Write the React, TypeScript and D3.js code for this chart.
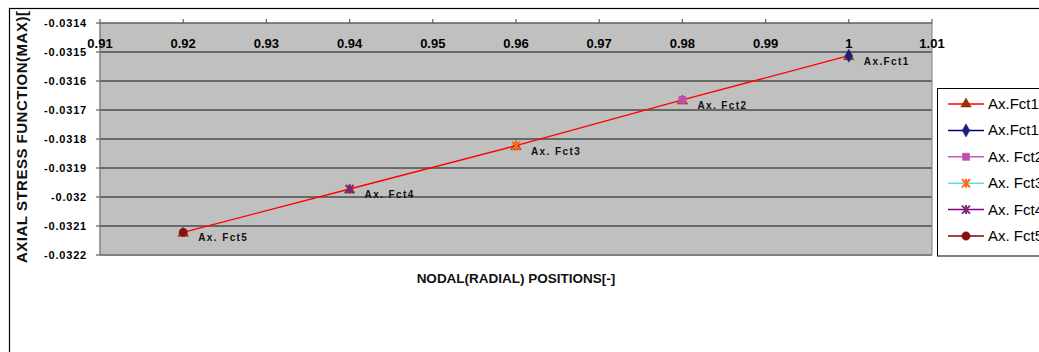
import React from "react";
import * as d3 from "d3";

const xValues = [1, 0.98, 0.96, 0.94, 0.92];
const yValues = [-0.0315128, -0.0316655, -0.0318231, -0.0319724, -0.0321218];
const pointLabels = ["Ax.Fct1", "Ax. Fct2", "Ax. Fct3", "Ax. Fct4", "Ax. Fct5"];
const legendNames = ["Ax.Fct1", "Ax.Fct1", "Ax. Fct2", "Ax. Fct3", "Ax. Fct4", "Ax. Fct5"];
const xTicks = [0.91, 0.92, 0.93, 0.94, 0.95, 0.96, 0.97, 0.98, 0.99, 1, 1.01];
const xTickLabels = ["0.91", "0.92", "0.93", "0.94", "0.95", "0.96", "0.97", "0.98", "0.99", "1", "1.01"];
const yTicks = [-0.0314, -0.0315, -0.0316, -0.0317, -0.0318, -0.0319, -0.032, -0.0321, -0.0322];
const yTickLabels = ["-0.0314", "-0.0315", "-0.0316", "-0.0317", "-0.0318", "-0.0319", "-0.032", "-0.0321", "-0.0322"];

type Style = { line: string; marker: string; shape: string };
const legendStyles: Style[] = [
  { line: "#FF0000", marker: "#993300", shape: "triangle" },
  { line: "#000080", marker: "#1E1E78", shape: "diamond" },
  { line: "#CC55CC", marker: "#C04DB0", shape: "square" },
  { line: "#66DDDD", marker: "#FF6A1A", shape: "asterisk" },
  { line: "#800080", marker: "#7A2A7A", shape: "star" },
  { line: "#800000", marker: "#8B1010", shape: "circle" },
];

const font = "Arial, 'Liberation Sans', sans-serif";

function markerPath(shape: string): string {
  if (shape === "triangle") return d3.symbol(d3.symbolTriangle, 48)()!;
  if (shape === "diamond") return d3.symbol(d3.symbolDiamond, 50)()!;
  if (shape === "square") return d3.symbol(d3.symbolSquare, 52)()!;
  if (shape === "circle") return d3.symbol(d3.symbolCircle, 55)()!;
  const p = d3.path();
  const r = 4;
  p.moveTo(-r, -r); p.lineTo(r, r);
  p.moveTo(-r, r); p.lineTo(r, -r);
  p.moveTo(0, -r - 0.5); p.lineTo(0, r + 0.5);
  return p.toString();
}

function Marker({ x, y, s }: { x: number; y: number; s: Style }) {
  const d = markerPath(s.shape);
  const stroked = s.shape === "asterisk" || s.shape === "star";
  return (
    <path
      d={d}
      transform={`translate(${x},${y})`}
      fill={stroked ? "none" : s.marker}
      stroke={s.marker}
      strokeWidth={stroked ? 2 : 0.5}
    />
  );
}

export default function App() {
  const left = 100, right = 932, top = 23, bottom = 255;
  const x = d3.scaleLinear().domain([0.91, 1.01]).range([left, right]);
  const y = d3.scaleLinear().domain([-0.0314, -0.0322]).range([top, bottom]);
  const pts = xValues.map((v, i) => [x(v), y(yValues[i])] as [number, number]);
  const line = d3.line()(pts.slice().sort((a, b) => a[0] - b[0]))!;

  const legendX = 937.5, legendY = 88.5;
  const legendRowY = (i: number) => 104 + i * 26.4;

  return (
    <svg width={1039} height={352} style={{ position: "absolute", left: 0, top: 0, background: "#fff" }} fontFamily={font}>
      <rect x={0} y={0} width={1039} height={352} fill="#fff" />
      <rect x={9.5} y={8.5} width={1100} height={400} fill="none" stroke="#000" strokeWidth={1.2} />
      {/* plot area */}
      <rect x={left} y={top} width={right - left} height={bottom - top} fill="#C0C0C0" />
      {yTicks.slice(1, -1).map((t, i) => (
        <line key={i} x1={left} x2={right} y1={y(t)} y2={y(t)} stroke="#111" strokeWidth={1} />
      ))}
      <line x1={left} x2={left} y1={top} y2={bottom} stroke="#808080" strokeWidth={1.5} />
      <line x1={right} x2={right} y1={top} y2={bottom} stroke="#808080" strokeWidth={1} />
      <line x1={left} x2={right} y1={bottom} y2={bottom} stroke="#808080" strokeWidth={2} />
      <line x1={left} x2={right} y1={top} y2={top} stroke="#606060" strokeWidth={1.5} />
      {/* y ticks */}
      {yTicks.map((t, i) => (
        <g key={i}>
          <line x1={left - 4} x2={left} y1={y(t)} y2={y(t)} stroke="#606060" strokeWidth={1.2} />
          <text x={87} y={y(t) + 4} textAnchor="end" fontSize={11} fontWeight="bold" letterSpacing={0.8} fill="#000">
            {yTickLabels[i]}
          </text>
        </g>
      ))}
      {/* x ticks */}
      {xTicks.map((t, i) => (
        <g key={i}>
          <line x1={x(t)} x2={x(t)} y1={top - 4} y2={top} stroke="#606060" strokeWidth={1.2} />
          <text x={x(t)} y={48} textAnchor="middle" fontSize={13} fontWeight="bold" fill="#000">
            {xTickLabels[i]}
          </text>
        </g>
      ))}
      {/* series line */}
      <path d={line} fill="none" stroke="#FF0000" strokeWidth={1.3} />
      {pts.map((p, i) => (
        <g key={i}>
          <Marker x={p[0]} y={p[1] + 1} s={legendStyles[0]} />
          <Marker x={p[0]} y={p[1]} s={legendStyles[i + 1]} />
          <text x={p[0] + 15} y={p[1] + 9} fontSize={10} fontWeight="bold" letterSpacing={1.4} fill="#111">
            {pointLabels[i]}
          </text>
        </g>
      ))}
      {/* axis titles */}
      <text x={516} y={283} textAnchor="middle" fontSize={13.5} fontWeight="bold" fill="#111">
        NODAL(RADIAL) POSITIONS[-]
      </text>
      <text transform="translate(27,263) rotate(-90)" fontSize={15} fontWeight="bold" letterSpacing={0.5} fill="#111">
        AXIAL STRESS FUNCTION(MAX)[
      </text>
      {/* legend */}
      <rect x={legendX} y={legendY} width={200} height={167.5} fill="#fff" stroke="#000" strokeWidth={1} />
      {legendStyles.map((s, i) => (
        <g key={i}>
          <line x1={948} x2={984} y1={legendRowY(i)} y2={legendRowY(i)} stroke={s.line} strokeWidth={1.5} />
          <Marker x={966} y={legendRowY(i)} s={s} />
          <text x={988} y={legendRowY(i) + 5} fontSize={15} fill="#000">
            {legendNames[i]}
          </text>
        </g>
      ))}
    </svg>
  );
}
